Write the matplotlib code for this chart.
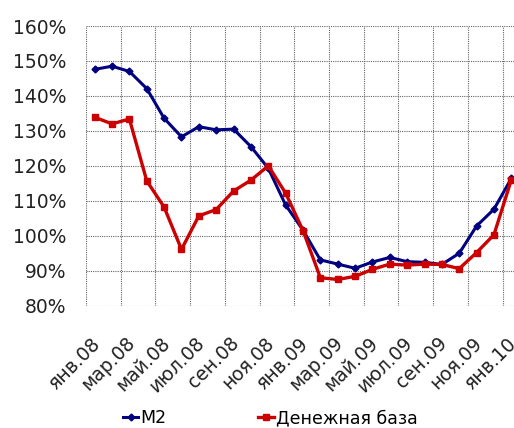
import matplotlib
matplotlib.use('Agg')
import matplotlib.pyplot as plt
from matplotlib.ticker import FixedLocator, FuncFormatter
import matplotlib.transforms as mtransforms

plt.rcParams['font.family'] = ['DejaVu Sans']

# месяцы янв.08 - янв.10
months = ['янв.08', 'фев.08', 'мар.08', 'апр.08', 'май.08', 'июн.08', 'июл.08', 'авг.08',
          'сен.08', 'окт.08', 'ноя.08', 'дек.08', 'янв.09', 'фев.09', 'мар.09', 'апр.09',
          'май.09', 'июн.09', 'июл.09', 'авг.09', 'сен.09', 'окт.09', 'ноя.09', 'дек.09',
          'янв.10']

m2 = [147.6, 148.5, 147.0, 142.1, 133.6, 128.3, 131.2, 130.3, 130.5, 125.5, 119.3, 108.8,
      101.6, 93.1, 91.9, 90.7, 92.5, 93.8, 92.6, 92.4, 91.8, 95.0, 102.8, 107.6, 116.4]
base = [133.9, 132.0, 133.4, 115.7, 108.2, 96.1, 105.7, 107.5, 112.8, 115.9, 120.0, 112.2,
        101.5, 88.0, 87.5, 88.4, 90.4, 91.9, 91.6, 91.9, 91.8, 90.6, 95.2, 100.3, 116.0]

fig = plt.figure(figsize=(5.14, 4.28), dpi=100)
ax = fig.add_axes([86 / 514, 122.3 / 428, 434 / 514, 279.7 / 428])

x = list(range(len(months)))
ax.plot(x, m2, color='#000080', linewidth=2.2, marker='D', markersize=3.5, label='M2', zorder=3)
ax.plot(x, base, color='#CC0000', linewidth=2.4, marker='s', markersize=5, label='Денежная база', zorder=4)

ax.set_xlim(-0.5, len(months) - 0.5)
ax.set_ylim(80, 160)
ax.set_yticks(range(80, 161, 10))
ax.yaxis.set_major_formatter(FuncFormatter(lambda v, p: f'{v:.0f}%'))

# подписи каждые два месяца, сетка между категориями
ax.set_xticks(x[::2])
ax.set_xticklabels(months[::2], rotation=45, ha='right', va='top', rotation_mode='anchor')
ax.xaxis.set_minor_locator(FixedLocator([i - 0.5 for i in range(0, len(months) + 1, 2)]))
ax.grid(True, which='minor', axis='x', color='#666666', linestyle=(0, (1, 1)), linewidth=0.8)
ax.grid(True, which='major', axis='y', color='#666666', linestyle=(0, (1, 1)), linewidth=0.8)
ax.tick_params(axis='both', which='both', length=0, labelsize=13.5, colors='#222222')
ax.tick_params(axis='y', pad=14)
ax.tick_params(axis='x', pad=20)
for lbl in ax.get_xticklabels():
    lbl.set_transform(lbl.get_transform() + mtransforms.ScaledTranslation(-4 / 100, 0, fig.dpi_scale_trans))
for s in ax.spines.values():
    s.set_visible(False)

fig.legend(loc='center', bbox_to_anchor=(270 / 514, 1 - 418 / 428), ncol=2, frameon=False,
           fontsize=12.5, handlelength=0.9, handletextpad=0.1, columnspacing=5.3,
           borderaxespad=0)

fig.savefig('out.png', dpi=100)
